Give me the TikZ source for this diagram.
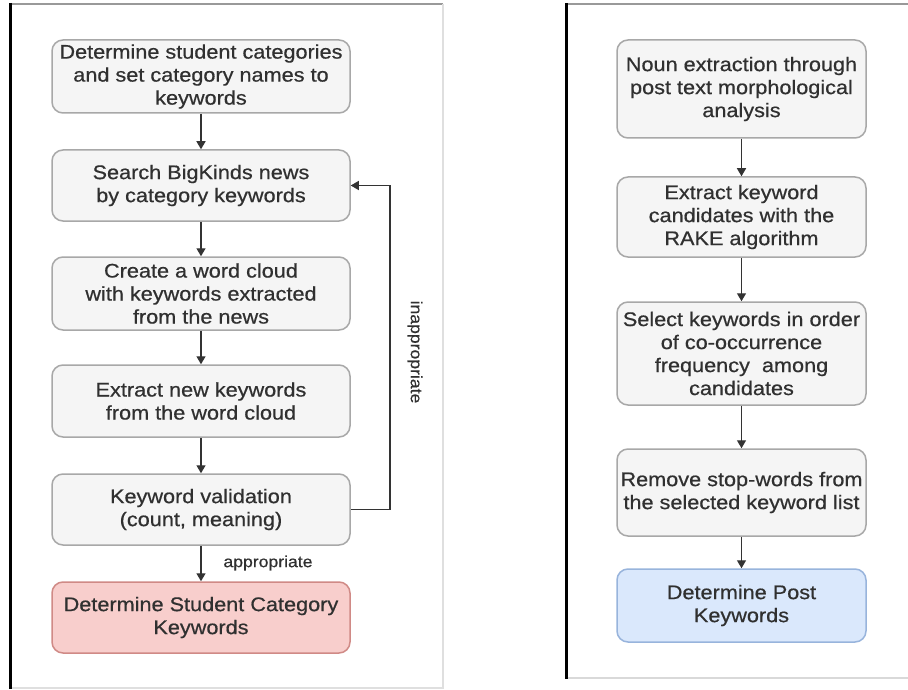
\documentclass[tikz,border=0pt]{standalone}
\usepackage{fontspec}
\setmainfont{Liberation Sans}[FakeStretch=1.1,FakeBold=0.6]
\usetikzlibrary{arrows.meta}
\definecolor{boxfill}{HTML}{F5F5F5}
\definecolor{boxline}{HTML}{A8A8A8}
\definecolor{redfill}{HTML}{F8CECC}
\definecolor{redline}{HTML}{D08A86}
\definecolor{bluefill}{HTML}{DAE8FC}
\definecolor{blueline}{HTML}{98B4DC}
\definecolor{txt}{HTML}{303030}
\definecolor{arr}{HTML}{333333}
\tikzset{
  stepbox/.style={draw=boxline, fill=boxfill, line width=1.5pt, rounded corners=11pt,
    align=center, text=txt, inner sep=0pt,
    font=\fontsize{19.7}{23}\selectfont},
  lbox/.style={stepbox, minimum width=298pt},
  rbox/.style={stepbox, minimum width=249pt},
  redbox/.style={draw=redline, fill=redfill},
  bluebox/.style={draw=blueline, fill=bluefill},
  flow/.style={draw=arr, line width=1.4pt, -{Triangle[width=9pt,length=8pt]}},
  lbl/.style={text=txt, font=\fontsize{16}{18}\selectfont, inner sep=0pt}
}
\begin{document}
\begin{tikzpicture}[x=1pt,y=-1pt]
\useasboundingbox (0,0) rectangle (908,690);
\fill[white] (0,0) rectangle (908,690);
% frames
\draw[line width=2pt, color=gray!80] (10,4) -- (443,4);
\draw[line width=1.5pt, color=gray!25] (443,4) -- (443,688) -- (10,688);
\draw[line width=3pt, black] (10,3) -- (10,689);
\draw[line width=2pt, color=gray!80] (566,4) -- (908,4);
\draw[line width=1.5pt, color=gray!30] (566,678) -- (908,678);
\draw[line width=3pt, black] (566,3) -- (566,679);
% left boxes
\node[lbox, minimum height=73pt] (l1) at (201,76.5) {Determine student categories\\and set category names to\\keywords};
\node[lbox, minimum height=71pt] (l2) at (201,185.5) {Search BigKinds news\\by category keywords};
\node[lbox, minimum height=73pt] (l3) at (201,293.5) {Create a word cloud\\with keywords extracted\\from the news};
\node[lbox, minimum height=72pt] (l4) at (201,401) {Extract new keywords\\from the word cloud};
\node[lbox, minimum height=71pt] (l5) at (201,509.5) {Keyword validation\\(count, meaning)};
\node[lbox, redbox, minimum height=71pt] (l6) at (201,617.5) {Determine Student Category\\Keywords};
\draw[flow] (l1) -- (l2);
\draw[flow] (l2) -- (l3);
\draw[flow] (l3) -- (l4);
\draw[flow] (l4) -- (l5);
\draw[flow] (l5) -- (l6);
\coordinate (fb1) at (390,509.5);
\coordinate (fb2) at (390,185.5);
\draw[flow] (l5.east) -- (fb1) -- (fb2) -- (l2.east);
\node[lbl] (app) at (268,563) {appropriate};
\node[lbl, rotate=-90] (inapp) at (415,352) {inappropriate};
% right boxes
\node[rbox, minimum height=98pt] (r1) at (741.5,89) {Noun extraction through\\post text morphological\\analysis};
\node[rbox, minimum height=80pt] (r2) at (741.5,217) {Extract keyword\\candidates with the\\RAKE algorithm};
\node[rbox, minimum height=103pt] (r3) at (741.5,353.5) {Select keywords in order\\of co-occurrence\\frequency~ among\\candidates};
\node[rbox, minimum height=87pt] (r4) at (741.5,492.5) {Remove stop-words from\\the selected keyword list};
\node[rbox, bluebox, minimum height=73pt] (r5) at (741.5,605.5) {Determine Post\\Keywords};
\draw[flow] (r1) -- (r2);
\draw[flow] (r2) -- (r3);
\draw[flow] (r3) -- (r4);
\draw[flow] (r4) -- (r5);
\end{tikzpicture}
\end{document}
